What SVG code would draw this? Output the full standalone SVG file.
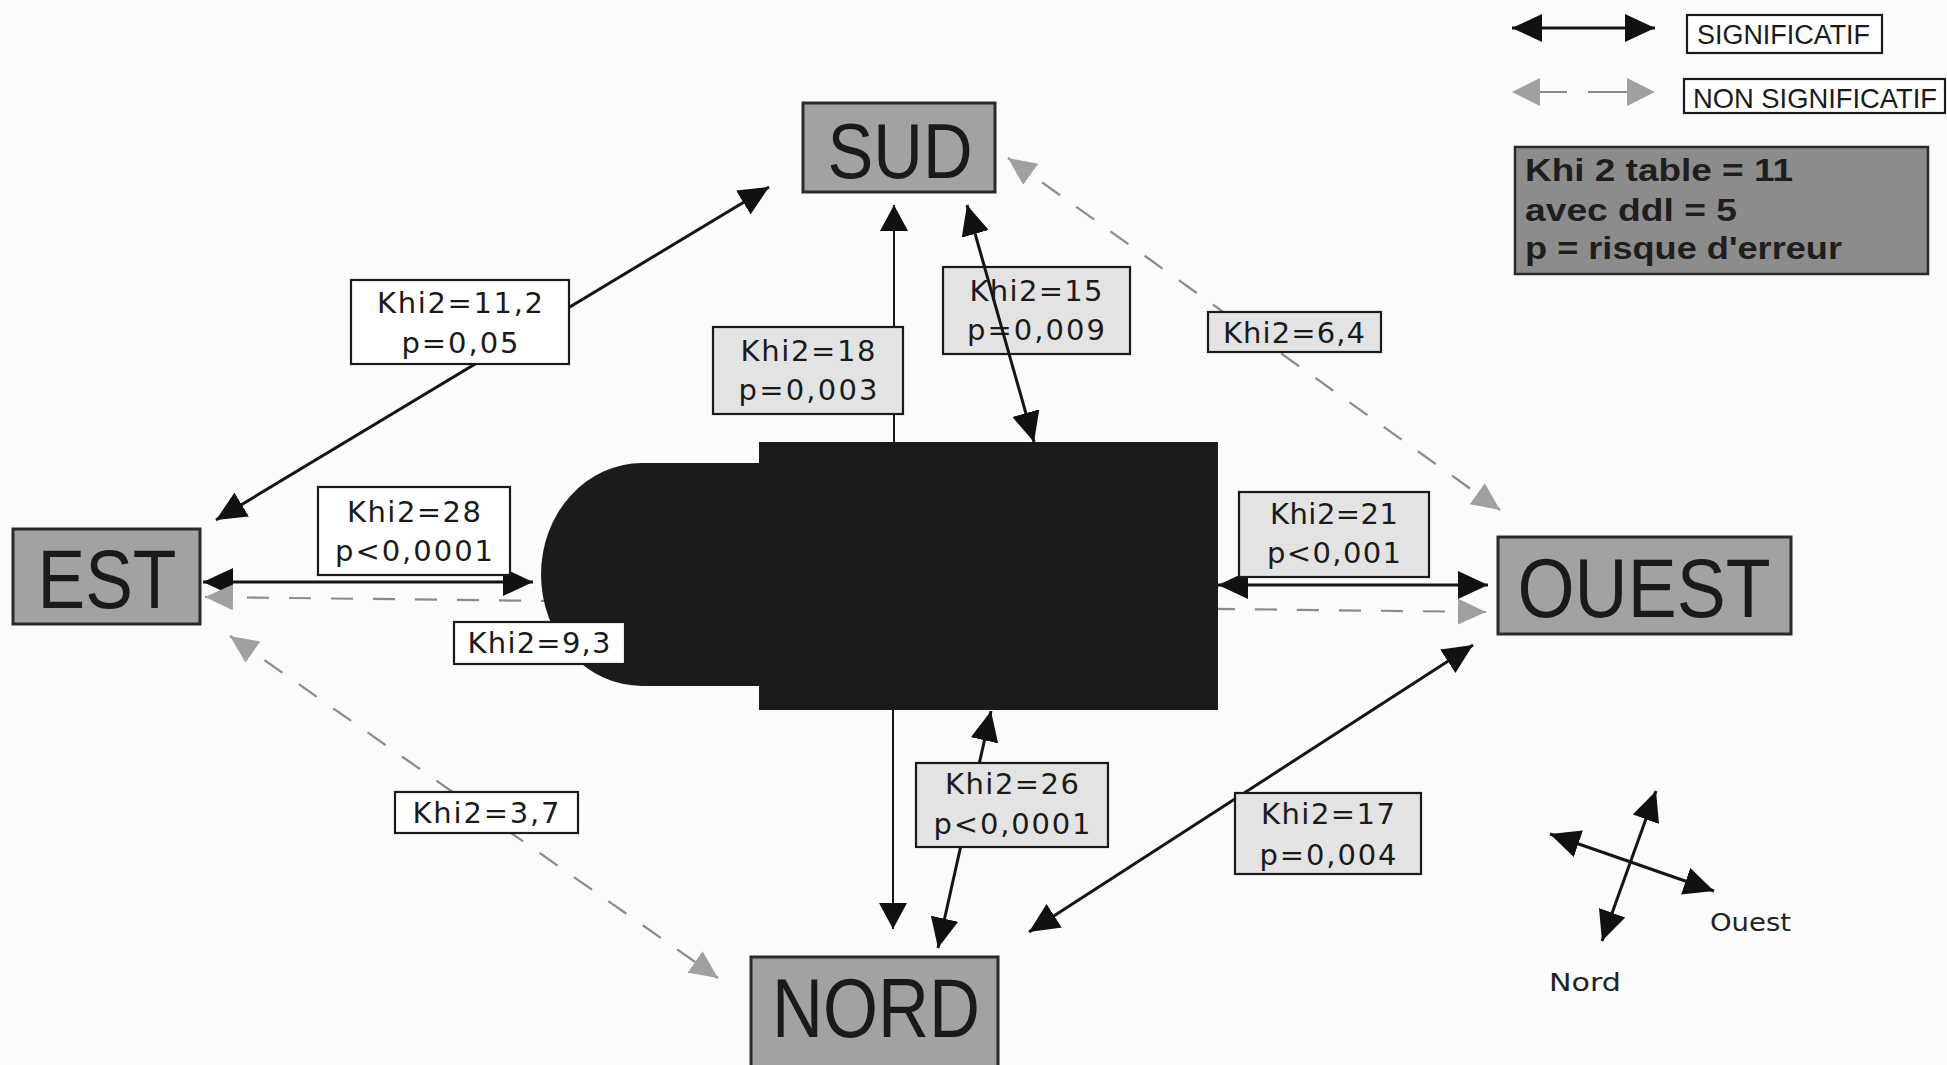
<svg xmlns="http://www.w3.org/2000/svg" width="1947" height="1065" viewBox="0 0 1947 1065">
<defs>
<style>
.bg{fill:#fbfbfd}
.sol{stroke:#151515;stroke-width:3;fill:none}
.thin{stroke:#151515;stroke-width:2;fill:none}
.dash{stroke:#8a8a8a;stroke-width:2.2;fill:none;stroke-dasharray:22 20}
.node rect{fill:#a2a2a2;stroke:#2a2a2a;stroke-width:3}
.node text{font-family:"Liberation Sans Narrow","Liberation Sans",Arial,sans-serif;fill:#1a1a1a;text-anchor:middle}
.lab rect{stroke:#1a1a1a;stroke-width:2.2}
.lab rect.w{fill:#ffffff}
.lab rect.g{fill:#e3e3e3}
.lab text{font-family:"DejaVu Sans","Liberation Sans",sans-serif;font-size:29px;fill:#1a1a1a;text-anchor:middle}
.leg text{font-family:"Liberation Sans Narrow","Liberation Sans",sans-serif;fill:#1a1a1a}
.key text{font-family:"Liberation Sans",Arial,sans-serif;font-weight:bold;font-size:32px;fill:#1e1e1e}
.cmp text{font-family:"DejaVu Sans","Liberation Sans",sans-serif;font-size:25px;fill:#222}
</style>
<marker id="ah" viewBox="0 0 30 28" refX="30" refY="14" markerWidth="30" markerHeight="28" markerUnits="userSpaceOnUse" orient="auto-start-reverse"><path d="M0,0 L30,14 L0,28 Z" fill="#111"/></marker>
<marker id="ahs" viewBox="0 0 26 28" refX="26" refY="14" markerWidth="26" markerHeight="28" markerUnits="userSpaceOnUse" orient="auto-start-reverse"><path d="M0,0 L26,14 L0,28 Z" fill="#111"/></marker>
<marker id="ag" viewBox="0 0 28 26" refX="28" refY="13" markerWidth="28" markerHeight="26" markerUnits="userSpaceOnUse" orient="auto-start-reverse"><path d="M0,0 L28,13 L0,26 Z" fill="#a0a0a0"/></marker>
</defs>
<rect class="bg" x="0" y="0" width="1947" height="1065"/>

<g id="connectors">
<line class="sol" x1="216" y1="520" x2="769" y2="187" marker-start="url(#ah)" marker-end="url(#ah)"/>
<line class="thin" x1="894" y1="442" x2="894" y2="205" marker-end="url(#ahs)"/>
<line class="dash" x1="1008" y1="158" x2="1500" y2="510" marker-start="url(#ag)" marker-end="url(#ag)"/>
<line class="sol" x1="203" y1="582" x2="533" y2="582" marker-start="url(#ah)" marker-end="url(#ah)"/>
<line class="sol" x1="1218" y1="585" x2="1488" y2="585" marker-start="url(#ah)" marker-end="url(#ah)"/>
<line class="dash" x1="205" y1="597" x2="1486" y2="612" marker-start="url(#ag)" marker-end="url(#ag)"/>
<line class="dash" x1="230" y1="636" x2="718" y2="978" marker-start="url(#ag)" marker-end="url(#ag)"/>
<line class="thin" x1="893" y1="710" x2="893" y2="929" marker-end="url(#ahs)"/>
<line class="sol" x1="991" y1="711" x2="938" y2="948" marker-start="url(#ah)" marker-end="url(#ah)"/>
<line class="sol" x1="1473" y1="645" x2="1029" y2="932" marker-start="url(#ah)" marker-end="url(#ah)"/>
</g>

<g id="centre">
<path d="M759 442 H1218 V710 H759 V686 H642 A101 111.5 0 0 1 642 463 H759 Z" fill="#1b1b1b"/>
</g>

<g id="sud" class="node"><rect x="803" y="103" width="192" height="89"/><text x="900" y="178" font-size="77" textLength="145" lengthAdjust="spacingAndGlyphs">SUD</text></g>
<g id="est" class="node"><rect x="13" y="529" width="187" height="95"/><text x="107" y="608" font-size="84" textLength="139" lengthAdjust="spacingAndGlyphs">EST</text></g>
<g id="ouest" class="node"><rect x="1498" y="537" width="293" height="97"/><text x="1644" y="617" font-size="84" textLength="253" lengthAdjust="spacingAndGlyphs">OUEST</text></g>
<g id="nord" class="node"><rect x="751" y="957" width="247" height="115"/><text x="876" y="1037" font-size="84" textLength="208" lengthAdjust="spacingAndGlyphs">NORD</text></g>

<g id="labels" class="lab">
<g id="l112"><rect class="w" x="351" y="280" width="218" height="84"/><text x="460" y="313" textLength="166">Khi2=11,2</text><text x="460" y="353" textLength="117">p=0,05</text></g>
<g id="l18"><rect class="g" x="713" y="327" width="190" height="87"/><text x="808" y="361" textLength="135">Khi2=18</text><text x="808" y="400" textLength="139">p=0,003</text></g>
<g id="l15"><rect class="g" x="943" y="267" width="187" height="87"/><text x="1036" y="301" textLength="133">Khi2=15</text><text x="1036" y="340" textLength="138">p=0,009</text></g>
<g id="l64"><rect class="g" x="1208" y="312" width="173" height="40"/><text x="1294" y="343" textLength="142">Khi2=6,4</text></g>
<g id="l28"><rect class="w" x="318" y="487" width="192" height="88"/><text x="414" y="522" textLength="134">Khi2=28</text><text x="414" y="561" textLength="158">p&lt;0,0001</text></g>
<g id="l21"><rect class="g" x="1239" y="492" width="190" height="85"/><text x="1334" y="524" textLength="128">Khi2=21</text><text x="1334" y="563" textLength="134">p&lt;0,001</text></g>
<g id="l93"><rect class="w" x="454" y="622" width="171" height="42"/><text x="539" y="653" textLength="143">Khi2=9,3</text></g>
<g id="l37"><rect class="w" x="395" y="792" width="183" height="41"/><text x="486" y="823" textLength="147">Khi2=3,7</text></g>
<g id="l26"><rect class="g" x="916" y="763" width="192" height="84"/><text x="1012" y="794" textLength="134">Khi2=26</text><text x="1012" y="834" textLength="157">p&lt;0,0001</text></g>
<g id="l17"><rect class="g" x="1235" y="793" width="186" height="81"/><text x="1328" y="824" textLength="134">Khi2=17</text><text x="1328" y="865" textLength="137">p=0,004</text></g>
</g>

<g id="connectors-over">
<line class="sol" x1="1034" y1="442" x2="967" y2="205" marker-start="url(#ah)" marker-end="url(#ah)"/>
</g>

<g id="legend" class="leg">
<line class="sol" x1="1512" y1="28" x2="1655" y2="28" marker-start="url(#ah)" marker-end="url(#ah)"/>
<rect x="1687" y="15" width="195" height="38" fill="#fff" stroke="#1a1a1a" stroke-width="2.2"/>
<text x="1697" y="44" font-size="27" textLength="173" lengthAdjust="spacingAndGlyphs">SIGNIFICATIF</text>
<path d="M1535 92 H1567 M1588 92 H1627" stroke="#8a8a8a" stroke-width="2.2"/>
<path d="M1512 92 L1540 78 L1540 106 Z M1655 92 L1627 78 L1627 106 Z" fill="#a0a0a0"/>
<rect x="1684" y="79" width="261" height="34" fill="#fff" stroke="#1a1a1a" stroke-width="2.2"/>
<text x="1693" y="108" font-size="28" textLength="244" lengthAdjust="spacingAndGlyphs">NON SIGNIFICATIF</text>
</g>

<g id="key" class="key">
<rect x="1515" y="147" width="413" height="127" fill="#8c8c8c" stroke="#2a2a2a" stroke-width="2.5"/>
<text x="1525" y="181" textLength="268" lengthAdjust="spacingAndGlyphs">Khi 2 table = 11</text>
<text x="1525" y="221" textLength="212" lengthAdjust="spacingAndGlyphs">avec ddl = 5</text>
<text x="1525" y="259" textLength="317" lengthAdjust="spacingAndGlyphs">p = risque d'erreur</text>
</g>

<g id="compass" class="cmp">
<line class="sol" x1="1656" y1="791" x2="1602" y2="941" marker-start="url(#ah)" marker-end="url(#ah)"/>
<line class="sol" x1="1550" y1="834" x2="1714" y2="891" marker-start="url(#ah)" marker-end="url(#ah)"/>
<text x="1710" y="931" textLength="81" lengthAdjust="spacingAndGlyphs">Ouest</text>
<text x="1549" y="991" textLength="72" lengthAdjust="spacingAndGlyphs">Nord</text>
</g>
</svg>
